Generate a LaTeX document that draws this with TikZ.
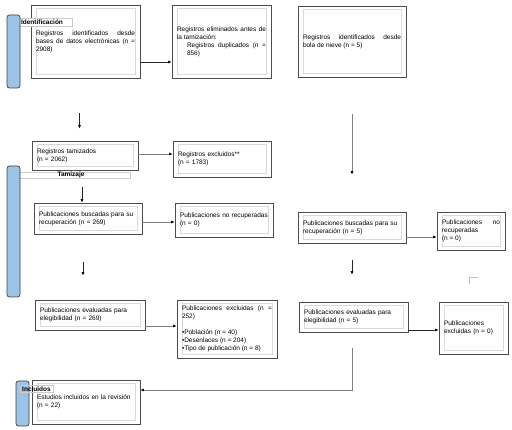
\documentclass[tikz,border=0pt]{standalone}
\usepackage{fontspec}
\setmainfont{Liberation Sans}
\usetikzlibrary{arrows.meta}
\definecolor{azulbarra}{HTML}{9DC3E6}
\hyphenpenalty=10000

\tikzset{
  caja/.style={draw=black!70, line width=0.8pt, inner xsep=5pt, inner ysep=0pt, align=left,
    path picture={\draw[black!15, line width=0.5pt]
      ([shift={(5pt,3.5pt)}]path picture bounding box.south west) rectangle
      ([shift={(-5pt,-3.5pt)}]path picture bounding box.north east);}},
  etiqueta/.style={draw=black!20, line width=0.4pt, fill=white, inner sep=0pt, font=\fontsize{6.5}{8}\selectfont\bfseries},
  barra/.style={draw=black!75, fill=azulbarra, line width=0.7pt, rounded corners=2.5pt},
  flecha/.style={-{Latex[length=3.5pt,width=3pt,color=black]}, line width=0.6pt, draw=black!85},
  flechagris/.style={flecha, draw=black!50}
}

\begin{document}
\begin{tikzpicture}[x=1pt, y=-1pt, font=\fontsize{6.5}{8}\selectfont]
    \useasboundingbox (0,0) rectangle (512,430);

    \node[caja, text width=99pt, minimum height=73pt, align=justify] (idbd) at (85.5,41.5) {Registros identificados desde bases de datos electrónicas (n = 2908)};
    \node[caja, text width=89pt, minimum height=73pt, align=justify] (elim) at (221.5,41.5) {Registros eliminados antes de la tamización:\par {\leftskip=10pt Registros duplicados (n = 856)\par}};
    \node[caja, text width=98pt, minimum height=71pt, align=justify] (bola) at (352,41.5) {Registros identificados desde\linebreak bola de nieve (n = 5)};

    \node[caja, text width=96pt, minimum height=29pt] (tamiz) at (85,155.5) {Registros tamizados\\(n = 2062)};
    \node[caja, text width=88pt, minimum height=36pt] (excl) at (222,159) {Registros excluidos**\\(n = 1783)};

    \node[caja, text width=98pt, minimum height=31pt] (buscA) at (88,218.5) {Publicaciones buscadas para su\\recuperación (n = 269)};
    \node[caja, text width=88pt, minimum height=34pt] (norecA) at (224,220) {Publicaciones no recuperadas\\(n = 0)};
    \node[caja, text width=98pt, minimum height=31pt] (buscB) at (352,227.5) {Publicaciones buscadas para su\\recuperación (n = 5)};
    \node[caja, text width=58pt, minimum height=38pt, align=justify] (norecB) at (471,231) {Publicaciones no recuperadas\\(n = 0)};

    \node[caja, text width=100pt, minimum height=30pt] (evalA) at (90,315) {Publicaciones evaluadas para\\elegibilidad (n = 269)};
    \node[caja, text width=90pt, minimum height=58pt, align=justify] (exclA) at (227,329) {Publicaciones excluidas (n = 252)\par
      \textcolor{black!35}{:}\\\textbullet Población (n = 40)\\\textbullet Desenlaces (n = 204)\\\textbullet Tipo de publicación (n = 8)};
    \node[caja, text width=99pt, minimum height=30pt] (evalB) at (353.5,317) {Publicaciones evaluadas para\\elegibilidad (n = 5)};
    \node[caja, text width=59pt, minimum height=52pt] (exclB) at (473.5,328) {Publicaciones\\excluidas (n = 0)};

    \node[caja, text width=98pt, minimum height=44pt] (incl) at (86,402) {Estudios incluidos en la revisión\\(n = 22)};

    \node[etiqueta, minimum width=60pt, minimum height=8pt] (etiqId) at (42,22) {Identificación};
    \node[etiqueta, minimum width=118pt, minimum height=6.5pt] (etiqTam) at (71,175) {Tamizaje};
    \draw[barra] (7,15) rectangle (20,88);
    \draw[barra] (7,166) rectangle (20,297);
    \draw[barra] (16,381) rectangle (29,426);
    \node[etiqueta, fill=none, minimum width=33pt, minimum height=7pt] (etiqInc) at (36.5,389) {Incluidos};

    \draw[flecha] ([yshift=-20.5pt]idbd.east) -- ([yshift=-20.5pt]idbd.east -| elim.west);
    \draw[flecha, shorten <=35pt, shorten >=12pt] ([xshift=-6pt]idbd.south) -- ([xshift=-6pt]idbd.south |- tamiz.north);
    \draw[flechagris] ([yshift=1.5pt]tamiz.east) -- ([yshift=1.5pt]tamiz.east -| excl.west);
    \draw[flecha, shorten <=17pt] ([xshift=-3pt]tamiz.south) -- ([xshift=-3pt]tamiz.south |- buscA.north);
    \draw[flechagris] ([yshift=-3.5pt]buscA.east) -- ([yshift=-3.5pt]buscA.east -| norecA.west);
    \draw[flecha, shorten <=28pt, shorten >=24pt] ([xshift=-5pt]buscA.south) -- ([xshift=-5pt]buscA.south |- evalA.north);
    \draw[flechagris] ([yshift=-11pt]evalA.east) -- ([yshift=-11pt]evalA.east -| exclA.west);

    \draw[flechagris, shorten <=37pt, shorten >=37pt] (bola.south) -- (bola.south |- buscB.north);
    \draw[flechagris] ([yshift=-9.5pt]buscB.east) -- ([yshift=-9.5pt]buscB.east -| norecB.west);
    \draw[flecha, shorten <=17pt, shorten >=27pt] (buscB.south) -- (buscB.south |- evalB.north);
    \draw[flecha] ([yshift=-13pt]evalB.east) -- ([yshift=-13pt]evalB.east -| exclB.west);
    \draw[flechagris] ([xshift=-1.5pt,yshift=-16pt]evalB.south) |- ([yshift=12pt]incl.east);

    \draw[black!25, line width=0.6pt] (469,284) -- (469,277) -- (478,277);
\end{tikzpicture}
\end{document}
